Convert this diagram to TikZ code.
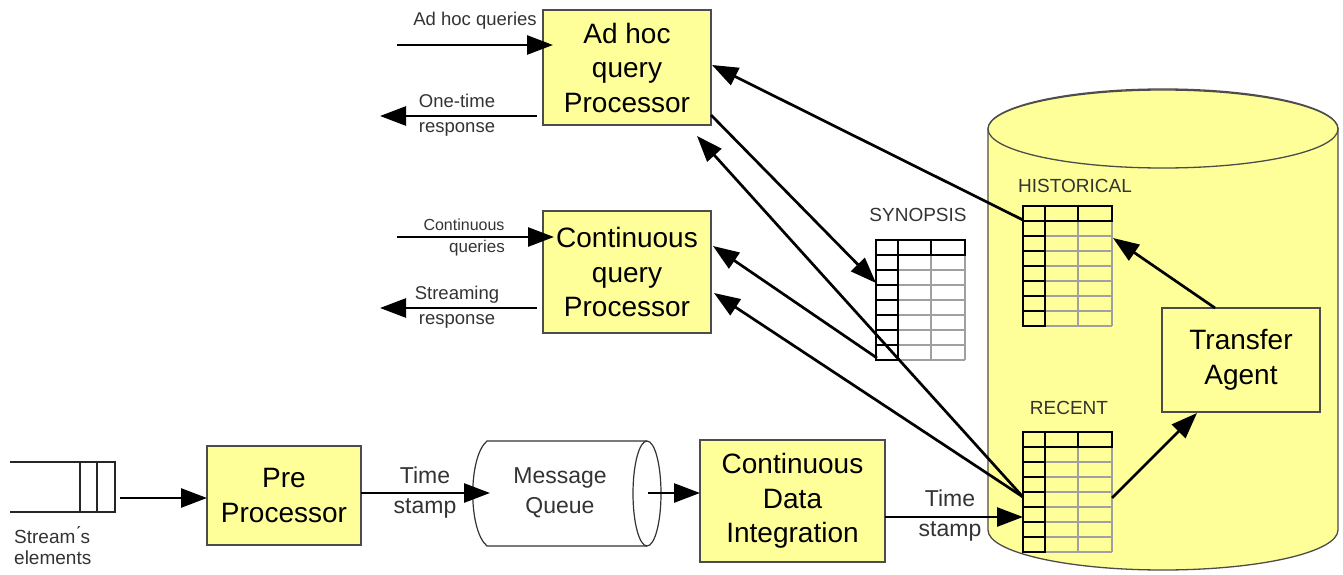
\documentclass[tikz,border=0pt]{standalone}
\usepackage{fontspec}
\setmainfont{Liberation Sans}
\usetikzlibrary{arrows.meta}
\definecolor{paleyellow}{HTML}{FFFF99}
\definecolor{labelgray}{HTML}{333333}
\definecolor{gridgray}{HTML}{A0A0A0}

\tikzset{
  datatable/.pic={
    % light inner grid of the data cells
    \foreach \r in {1,...,7}
      \draw[gridgray, line width=1.1pt] (22,15+\r*15) -- (89,15+\r*15);
    \draw[gridgray, line width=1.1pt] (55,15) -- (55,120) (89,15) -- (89,120);
    % header row and key column
    \draw[black, line width=1.8pt] (0,0) rectangle (89,15);
    \draw[black, line width=1.8pt] (22,0) -- (22,120) -- (0,120) -- (0,0) (55,0) -- (55,15);
    \foreach \r in {1,...,6}
      \draw[black, line width=1.8pt] (0,15+\r*15) -- (22,15+\r*15);
  }
}

\begin{document}
\begin{tikzpicture}[x=1pt,y=-1pt,
  procbox/.style={draw=black!70, line width=1.5pt, fill=paleyellow, inner sep=0pt,
                  align=center, font=\fontsize{28}{34.5}\selectfont},
  flow/.style={line width=2.7pt, -{Triangle[length=26pt,width=19pt]}},
  smalllabel/.style={text=labelgray, align=center, inner sep=0pt, font=\fontsize{18.5}{25}\selectfont},
  stamplabel/.style={text=labelgray, align=center, inner sep=0pt, font=\fontsize{23}{30}\selectfont},
  tablabel/.style={text=labelgray, inner sep=0pt, font=\fontsize{19}{22}\selectfont}
]
\useasboundingbox (0,0) rectangle (1343,575);

% ---------- database cylinder ----------
\draw[draw=black!70, line width=1.3pt, fill=paleyellow]
  (988,129) -- (988,530) arc[start angle=180, end angle=360, x radius=175pt, y radius=40pt]
  -- (1338,129) arc[start angle=0, end angle=180, x radius=175pt, y radius=40pt] -- cycle;
\draw[draw=black!70, line width=1.3pt, fill=paleyellow] (1163,129) ellipse[x radius=175pt, y radius=39pt];

% ---------- tables ----------
\node[tablabel] (synlabel) at (918,215) {SYNOPSIS};
\pic at (876,240) {datatable};
\node[tablabel] (histlabel) at (1075,186) {HISTORICAL};
\pic at (1023,206) {datatable};
\node[tablabel] (reclabel) at (1069,408) {RECENT};
\pic at (1023,432) {datatable};

\coordinate (syn-in) at (876,283);
\coordinate (syn-out) at (877,358);
\coordinate (hist-out) at (1023,220);
\coordinate (hist-in) at (1113,238);
\coordinate (rec-out) at (1023,497);
\coordinate (rec-in) at (1023,517);
\coordinate (rec-right) at (1112,498);

% ---------- processing boxes ----------
\node[procbox, minimum width=168pt, minimum height=115pt] (adhoc) at (627,67.5) {Ad hoc\\query\\Processor};
\node[procbox, minimum width=168pt, minimum height=122pt] (cqp) at (627,272) {Continuous\\query\\Processor};
\node[procbox, minimum width=154pt, minimum height=99pt] (pre) at (284,495.5) {Pre\\Processor};
\node[procbox, minimum width=185pt, minimum height=122pt] (cdi) at (792.5,501) {Continuous\\Data\\Integration};
\node[procbox, minimum width=158pt, minimum height=104pt] (ta) at (1241,360) {Transfer\\Agent};

% ---------- message queue ----------
\draw[draw=black!80, line width=1.2pt, fill=white]
  (487,441) -- (647,441) arc[start angle=90, end angle=-90, x radius=14pt, y radius=52.5pt]
  -- (487,546) .. controls (468,530) and (468,457) .. (487,441) -- cycle;
\draw[draw=black!80, line width=1.2pt]
  (647,441) arc[start angle=90, end angle=270, x radius=14pt, y radius=52.5pt];
\node[stamplabel] (mq) at (560,493) {Message\\Queue};

% ---------- stream elements ----------
\draw[black!85, line width=1.5pt] (10,462) -- (115,462) -- (115,512) -- (10,512)
  (80,462) -- (80,512) (97,462) -- (97,512);
\coordinate (stream) at (120,498);
\node[text=labelgray, align=left, inner sep=0pt, anchor=north west,
      font=\fontsize{19}{21}\selectfont] (streamlabel) at (14,526) {Stream\'{}s\\elements};

% ---------- query inputs and responses ----------
\coordinate (aq-from) at (397,45);  \coordinate (aq-to) at (553,45);
\coordinate (ot-from) at (537,116); \coordinate (ot-to) at (380,116);
\coordinate (cq-from) at (397,237); \coordinate (cq-to) at (554,237);
\coordinate (sr-from) at (537,308); \coordinate (sr-to) at (380,308);
\draw[flow] (aq-from) -- (aq-to);
\draw[flow] (ot-from) -- (ot-to);
\draw[flow] (cq-from) -- (cq-to);
\draw[flow] (sr-from) -- (sr-to);
\node[smalllabel] (aqlabel) at (475,21) {Ad hoc queries};
\node[smalllabel] (otlabel) at (457,115) {One-time\\response};
\node[smalllabel, font=\fontsize{16}{22}\selectfont] (cqlabel1) at (464,225) {Continuous};
\node[smalllabel, font=\fontsize{17}{22}\selectfont] (cqlabel2) at (477,248) {queries};
\node[smalllabel] (srlabel) at (457,307) {Streaming\\response};

% ---------- data flow along the bottom ----------
\coordinate (pre-in) at (207,498);
\coordinate (pre-out) at (361,493);
\coordinate (mq-in) at (490,493);
\coordinate (mq-out) at (648,493);
\coordinate (cdi-in) at (700,493);
\coordinate (cdi-out) at (885,517);
\draw[flow] (stream) -- (pre-in);
\draw[flow] (pre-out) -- (mq-in);
\draw[flow] (mq-out) -- (cdi-in);
\draw[flow] (cdi-out) -- (rec-in);
\node[stamplabel] (ts1) at (425,493) {Time\\stamp};
\node[stamplabel] (ts2) at (950,516) {Time\\stamp};

% ---------- links between processors and stored data ----------
\coordinate (adhoc-a) at (712,65);
\coordinate (adhoc-b) at (711,115);
\coordinate (adhoc-c) at (697,136);
\coordinate (cqp-a) at (713,246);
\coordinate (cqp-b) at (714,293);
\coordinate (ta-top) at (1215,308);
\coordinate (ta-in) at (1197,413);
\draw[flow] (hist-out) -- (adhoc-a);
\draw[flow] (adhoc-b) -- (syn-in);
\draw[flow] (rec-out) -- (adhoc-c);
\draw[flow] (syn-out) -- (cqp-a);
\draw[flow] (rec-out) -- (cqp-b);
\draw[flow] (ta-top) -- (hist-in);
\draw[flow] (rec-right) -- (ta-in);
\end{tikzpicture}
\end{document}
